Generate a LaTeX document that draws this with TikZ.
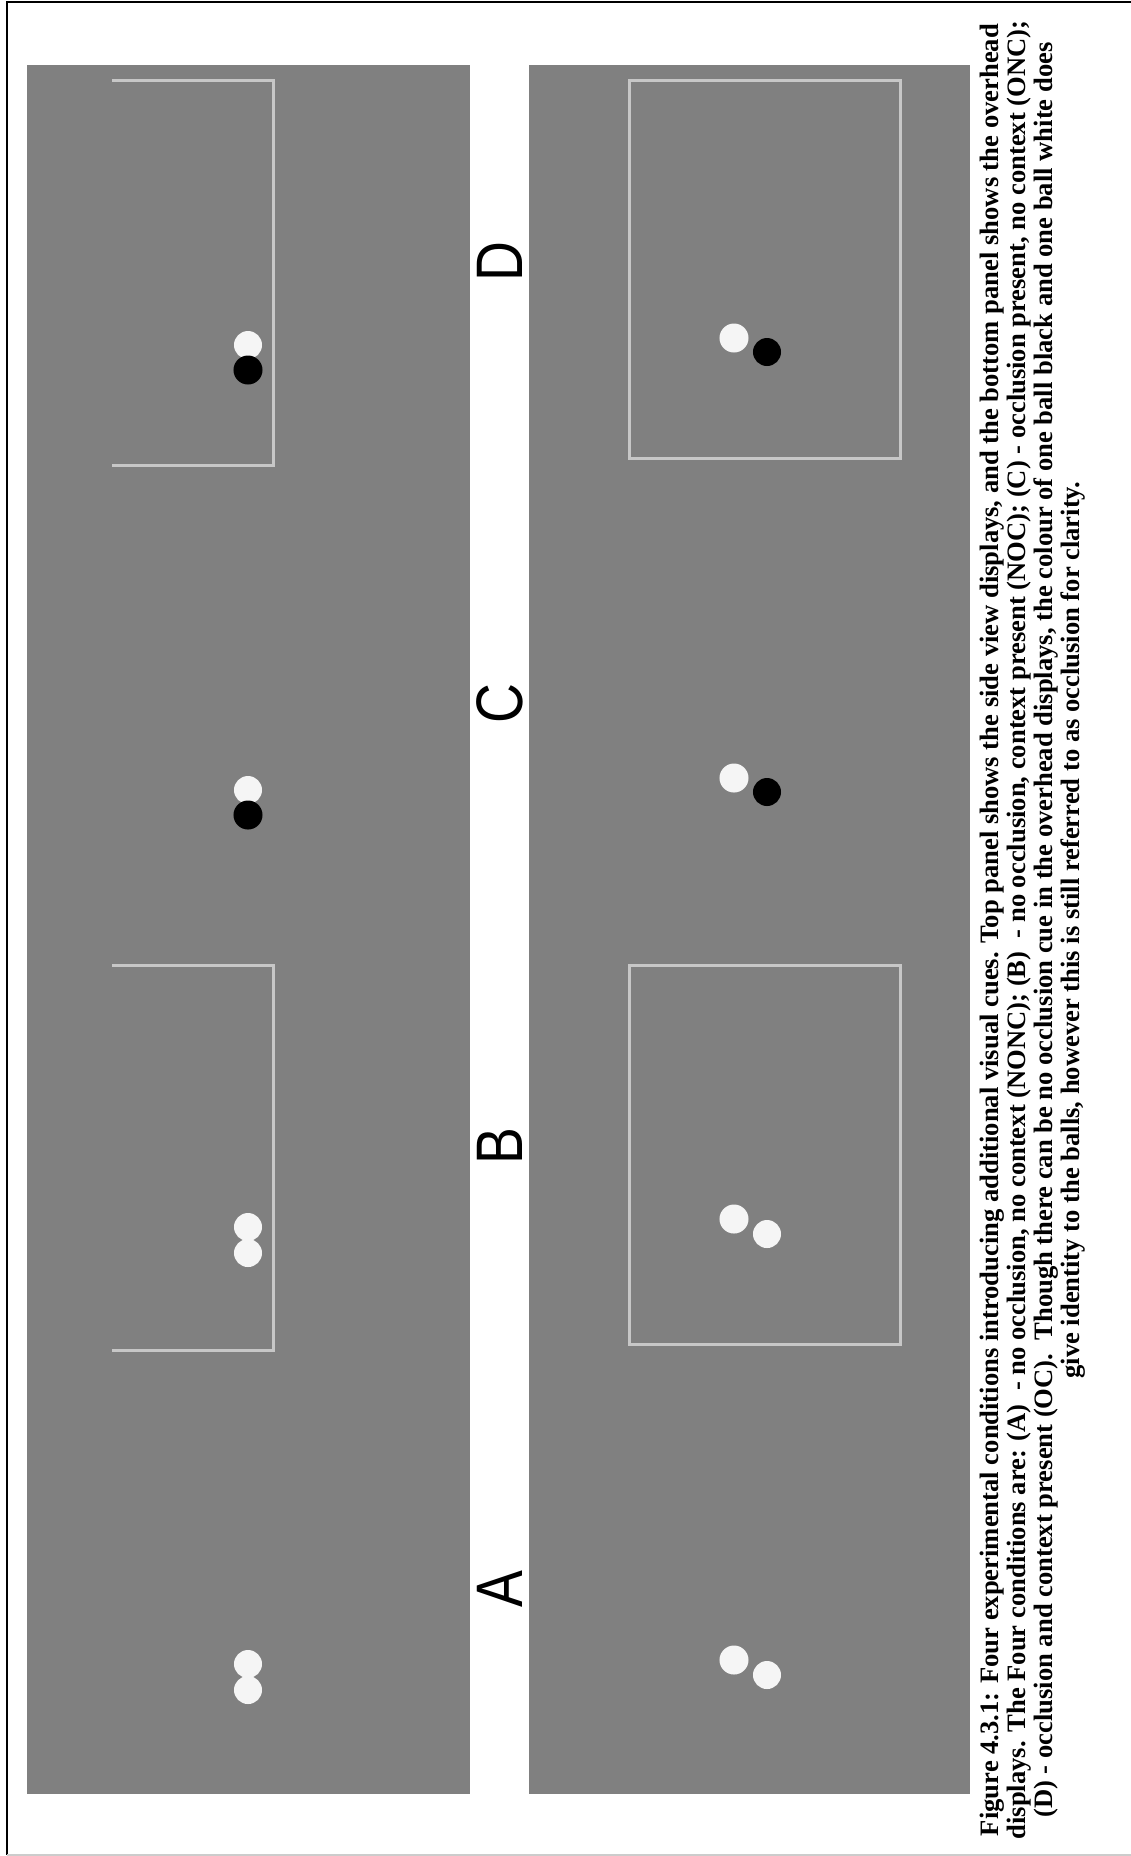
\documentclass[tikz,border=0pt]{standalone}
\usepackage{graphicx}
\usepackage{fontspec}
\setmainfont{Liberation Serif}
\newfontfamily\letterfont{Liberation Sans}

\begin{document}
\begin{tikzpicture}[x=0.01cm, y=-0.01cm,
    ctxline/.style={draw=white!78!black, line width=0.03cm},
    ballwhite/.style={fill=white!96!black},
    ballblack/.style={fill=black},
    condlabel/.style={rotate=90, inner sep=0pt, font=\letterfont\fontsize{18.7pt}{20pt}\selectfont},
    capline/.style={rotate=90, anchor=base, inner sep=0pt, font=\bfseries\fontsize{7.56pt}{8.8pt}\selectfont}]
    \useasboundingbox (0,0) rectangle (1131,1856);

    % Page frame
    \draw[line width=0.02cm] (7,1855) -- (7,2) -- (1131,2);
    \draw[line width=0.02cm, white!80!black] (7,1855) -- (1131,1855);

    % Left: side view panel
    \fill[gray] (27,65) rectangle (470,1794);
    \draw[ctxline] (112,80) -- (273,80) -- (273,465) -- (112,465);
    \draw[ctxline] (112,965) -- (273,965) -- (273,1350) -- (112,1350);
    \fill[ballwhite] (248,345) circle (0.14cm);
    \fill[ballblack] (248,370) circle (0.145cm);
    \fill[ballwhite] (248,790) circle (0.14cm);
    \fill[ballblack] (248,815) circle (0.145cm);
    \fill[ballwhite] (248,1227) circle (0.14cm);
    \fill[ballwhite] (248,1253) circle (0.14cm);
    \fill[ballwhite] (248,1664) circle (0.14cm);
    \fill[ballwhite] (248,1690) circle (0.14cm);

    % Condition letters in the white strip
    \node[condlabel] (lblD) at (500,262) {\scalebox{0.84}[1]{D}};
    \node[condlabel] (lblC) at (500,704) {\scalebox{0.84}[1]{C}};
    \node[condlabel] (lblB) at (500,1146) {\scalebox{0.84}[1]{B}};
    \node[condlabel] (lblA) at (500,1589) {\scalebox{0.84}[1]{A}};

    % Right: overhead panel
    \fill[gray] (529,65) rectangle (970,1794);
    \draw[ctxline] (629,80) rectangle (900,458);
    \draw[ctxline] (629,965) rectangle (900,1344);
    \fill[ballwhite] (734,338) circle (0.145cm);
    \fill[ballblack] (767,352) circle (0.14cm);
    \fill[ballwhite] (734,778) circle (0.145cm);
    \fill[ballblack] (767,792) circle (0.14cm);
    \fill[ballwhite] (734,1219) circle (0.145cm);
    \fill[ballwhite] (767,1234) circle (0.14cm);
    \fill[ballwhite] (734,1660) circle (0.145cm);
    \fill[ballwhite] (767,1675) circle (0.14cm);

    % Caption, turned to read upwards
    \node[capline] (cap1) at (998,930) {Figure 4.3.1: Four experimental conditions introducing additional visual cues. Top panel shows the side view displays, and the bottom panel shows the overhead};
    \node[capline] (cap2) at (1025,930) {displays. The Four conditions are: (A) \ - no occlusion, no context (NONC); (B) \ - no occlusion, context present (NOC); (C) - occlusion present, no context (ONC);};
    \node[capline] (cap3) at (1052,930) {(D) - occlusion and context present (OC). \ Though there can be no occlusion cue in the overhead displays, the colour of one ball black and one ball white does};
    \node[capline] (cap4) at (1079,930) {give identity to the balls, however this is still referred to as occlusion for clarity.};
\end{tikzpicture}
\end{document}
